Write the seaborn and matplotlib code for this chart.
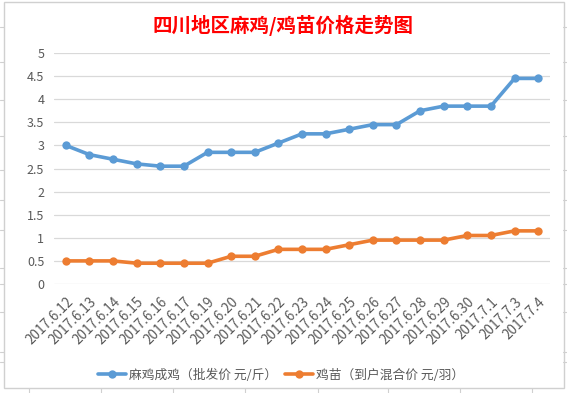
import numpy as np
import pandas as pd
import matplotlib
matplotlib.use("Agg")
import matplotlib.pyplot as plt
import matplotlib.transforms as mtransforms
from matplotlib.lines import Line2D
from matplotlib.patches import Rectangle
import seaborn as sns

# ---- data ----
dates = ["2017.6.12", "2017.6.13", "2017.6.14", "2017.6.15", "2017.6.16", "2017.6.17",
         "2017.6.19", "2017.6.20", "2017.6.21", "2017.6.22", "2017.6.23", "2017.6.24",
         "2017.6.25", "2017.6.26", "2017.6.27", "2017.6.28", "2017.6.29", "2017.6.30",
         "2017.7.1", "2017.7.3", "2017.7.4"]
adult_chicken = [3.0, 2.8, 2.7, 2.6, 2.55, 2.55, 2.85, 2.85, 2.85, 3.05, 3.25, 3.25,
                 3.35, 3.45, 3.45, 3.75, 3.85, 3.85, 3.85, 4.45, 4.45]
chick = [0.5, 0.5, 0.5, 0.45, 0.45, 0.45, 0.45, 0.6, 0.6, 0.75, 0.75, 0.75,
         0.85, 0.95, 0.95, 0.95, 0.95, 1.05, 1.05, 1.15, 1.15]
series_names = ["麻鸡成鸡（批发价 元/斤）", "鸡苗（到户混合价 元/羽）"]
y_ticks = [0, 0.5, 1, 1.5, 2, 2.5, 3, 3.5, 4, 4.5, 5]
y_tick_labels = ["0", "0.5", "1", "1.5", "2", "2.5", "3", "3.5", "4", "4.5", "5"]
title = "四川地区麻鸡/鸡苗价格走势图"

sns.set_theme(style="white")
plt.rcParams["font.family"] = ["Noto Sans CJK SC", "DejaVu Sans"]

W, H = 567, 393
fig = plt.figure(figsize=(W / 100, H / 100), dpi=100)
ax = fig.add_axes([54 / W, 1 - 284 / H, (550 - 54) / W, (284 - 53) / H])

idx = np.arange(len(dates))
df = pd.DataFrame({
    "idx": np.concatenate([idx, idx]),
    "value": adult_chicken + chick,
    "series": [series_names[0]] * len(dates) + [series_names[1]] * len(dates),
})
colors = ["#5B9BD5", "#ED7D31"]
sns.lineplot(data=df, x="idx", y="value", hue="series", palette=colors,
             marker="o", markersize=6, markeredgewidth=0, linewidth=2.6,
             ax=ax, legend=False, sort=False)

ax.set_xlim(-0.5, len(dates) - 0.5)
ax.set_ylim(0, 5)
ax.set_yticks(y_ticks)
ax.set_yticklabels(y_tick_labels)
ax.yaxis.grid(True, color="#D9D9D9", linewidth=0.9)
ax.xaxis.grid(False)
for s in ax.spines.values():
    s.set_visible(False)
ax.set_xlabel("")
ax.set_ylabel("")
ax.tick_params(axis="y", length=0, pad=7, labelsize=9, labelcolor="#595959")
ax.tick_params(axis="x", length=0, pad=9, labelsize=9.8, labelcolor="#595959")
ax.set_xticks(idx)
ax.set_xticklabels(dates, rotation=45, ha="right", va="center", rotation_mode="anchor")
offset = mtransforms.ScaledTranslation(5 / 100, -3 / 100, fig.dpi_scale_trans)
for lab in ax.get_xticklabels():
    lab.set_transform(lab.get_transform() + offset)

fig.text(283 / W, 1 - 25 / H, title, ha="center", va="center", color="#FF0000",
         fontsize=14, fontweight="bold")

handles = [Line2D([0], [0], color=c, linewidth=2.6, marker="o", markersize=6,
                  markeredgewidth=0) for c in colors]
fig.legend(handles, series_names, loc="center", bbox_to_anchor=(281 / W, 1 - 375 / H),
           ncol=2, frameon=False, fontsize=9.2, labelcolor="#595959",
           handlelength=2.2, handletextpad=0.2, columnspacing=0.6)

# chart border and surrounding sheet lines
fig.patches.append(Rectangle((3.5 / W, 1 - 388 / H), 560 / W, 386 / H, transform=fig.transFigure,
                             fill=False, edgecolor="#D0D0D0", linewidth=1.0))
for x in [29, 101, 173, 245, 318, 388, 460, 532]:
    fig.add_artist(Line2D([x / W, x / W], [0, 5 / H], transform=fig.transFigure,
                          color="#D0D0D0", linewidth=0.8))
for y in [27, 62, 100, 136, 170, 200, 230, 268, 284, 312, 352, 362]:
    yy = 1 - y / H
    fig.add_artist(Line2D([0, 3.5 / W], [yy, yy], transform=fig.transFigure,
                          color="#D0D0D0", linewidth=0.8))
    fig.add_artist(Line2D([563 / W, 1], [yy, yy], transform=fig.transFigure,
                          color="#D0D0D0", linewidth=0.8))

fig.savefig("out.png", dpi=100)
